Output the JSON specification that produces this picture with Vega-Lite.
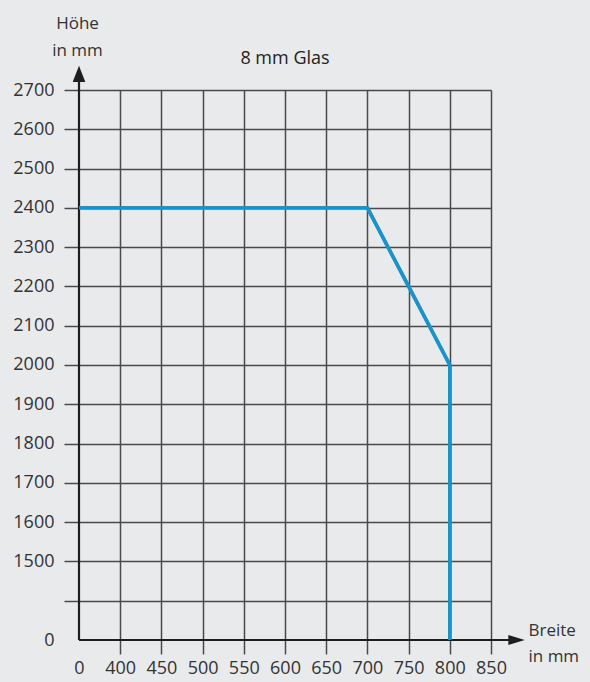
{
  "$schema": "https://vega.github.io/schema/vega-lite/v6.json",
  "width": 412,
  "height": 550,
  "autosize": "none",
  "padding": {"left": 79, "top": 90, "right": 99, "bottom": 42},
  "background": "#e9eaec",
  "config": {
    "view": {"stroke": null},
    "font": "Open Sans",
    "axis": {"labelOverlap": false, "labelFlush": false, "labelBound": false}
  },
  "title": {
    "text": "8 mm Glas",
    "anchor": "middle",
    "frame": "group",
    "fontSize": 18,
    "fontWeight": 500,
    "color": "#222222",
    "font": "Open Sans",
    "baseline": "alphabetic",
    "offset": 0,
    "dy": 68
  },
  "datasets": {
    "kurve": [
      {"breite": 0, "hoehe": 2400},
      {"breite": 700, "hoehe": 2400},
      {"breite": 800, "hoehe": 2000},
      {"breite": 800, "hoehe": 0}
    ],
    "achsen": [
      {"x1": 0, "x2": 0, "y1": 0, "y2": 2745},
      {"x1": 0, "x2": 880, "y1": 0, "y2": 0}
    ],
    "pfeile": [
      {"x": 0, "y": 2741, "form": "M0,-1L0.77,1L-0.77,1Z"},
      {"x": 881, "y": 0, "form": "M1,0L-1,0.62L-1,-0.62Z"}
    ]
  },
  "layer": [
    {
      "data": {"name": "kurve"},
      "mark": {"type": "line", "color": "#1a93c9", "strokeWidth": 3.5, "strokeJoin": "miter"},
      "encoding": {
        "x": {
          "field": "breite",
          "type": "quantitative",
          "scale": {"domain": [0, 400, 850], "range": [0, 41.2, 412], "nice": false, "zero": false},
          "axis": {
            "title": ["Breite", "in mm"],
            "titleAngle": 0,
            "titleAlign": "left",
            "titleBaseline": "alphabetic",
            "titleX": 449,
            "titleY": -5,
            "titleLineHeight": 26,
            "titleFont": "Open Sans",
            "titleFontSize": 17,
            "titleFontWeight": "normal",
            "titleColor": "#333333",
            "values": [0, 400, 450, 500, 550, 600, 650, 700, 750, 800, 850],
            "tickCount": 30,
            "format": "d",
            "domain": false,
            "grid": true,
            "gridColor": {"condition": {"test": "datum.value == 0", "value": null}, "value": "#4a4a4a"},
            "gridWidth": 1.5,
            "ticks": true,
            "tickSize": 14,
            "tickWidth": 1.5,
            "tickColor": {"condition": {"test": "datum.value == 0", "value": null}, "value": "#4a4a4a"},
            "labelPadding": 5,
            "labelFont": "Open Sans",
            "labelFontSize": 18,
            "labelColor": "#333333",
            "labelOverlap": false,
            "labelFlush": false
          }
        },
        "y": {
          "field": "hoehe",
          "type": "quantitative",
          "scale": {"domain": [0, 1400, 2700], "range": [550, 510.71, 0], "nice": false, "zero": false},
          "axis": {
            "title": ["Höhe", "in mm"],
            "titleAngle": 0,
            "titleAlign": "center",
            "titleBaseline": "alphabetic",
            "titleX": -2,
            "titleY": -62,
            "titleLineHeight": 27,
            "titleFont": "Open Sans",
            "titleFontSize": 17,
            "titleFontWeight": "normal",
            "titleColor": "#333333",
            "values": [0, 1400, 1500, 1600, 1700, 1800, 1900, 2000, 2100, 2200, 2300, 2400, 2500, 2600, 2700],
            "tickCount": 30,
            "format": "d",
            "labelExpr": "datum.value == 1400 ? '' : datum.label",
            "domain": false,
            "grid": true,
            "gridColor": {"condition": {"test": "datum.value == 0", "value": null}, "value": "#4a4a4a"},
            "gridWidth": 1.5,
            "ticks": true,
            "tickSize": 15,
            "tickWidth": 1.5,
            "tickColor": {"condition": {"test": "datum.value == 0", "value": null}, "value": "#4a4a4a"},
            "labelPadding": 10,
            "labelFont": "Open Sans",
            "labelFontSize": 18,
            "labelColor": "#333333",
            "labelOverlap": false,
            "labelFlush": false
          }
        }
      }
    },
    {
      "data": {"name": "achsen"},
      "mark": {"type": "rule", "color": "#1e1e1e", "strokeWidth": 2.2},
      "encoding": {
        "x": {"field": "x1", "type": "quantitative"},
        "x2": {"field": "x2"},
        "y": {"field": "y1", "type": "quantitative"},
        "y2": {"field": "y2"}
      }
    },
    {
      "data": {"name": "pfeile"},
      "mark": {"type": "point", "filled": true, "color": "#1e1e1e", "opacity": 1, "size": 270},
      "encoding": {
        "x": {"field": "x", "type": "quantitative"},
        "y": {"field": "y", "type": "quantitative"},
        "shape": {"field": "form", "type": "nominal", "scale": null}
      }
    },
    {
      "data": {"name": "kurve"},
      "mark": {"type": "line", "color": "#1a93c9", "strokeWidth": 3.5, "strokeJoin": "miter"},
      "encoding": {
        "x": {"field": "breite", "type": "quantitative"},
        "y": {"field": "hoehe", "type": "quantitative"}
      }
    }
  ]
}
